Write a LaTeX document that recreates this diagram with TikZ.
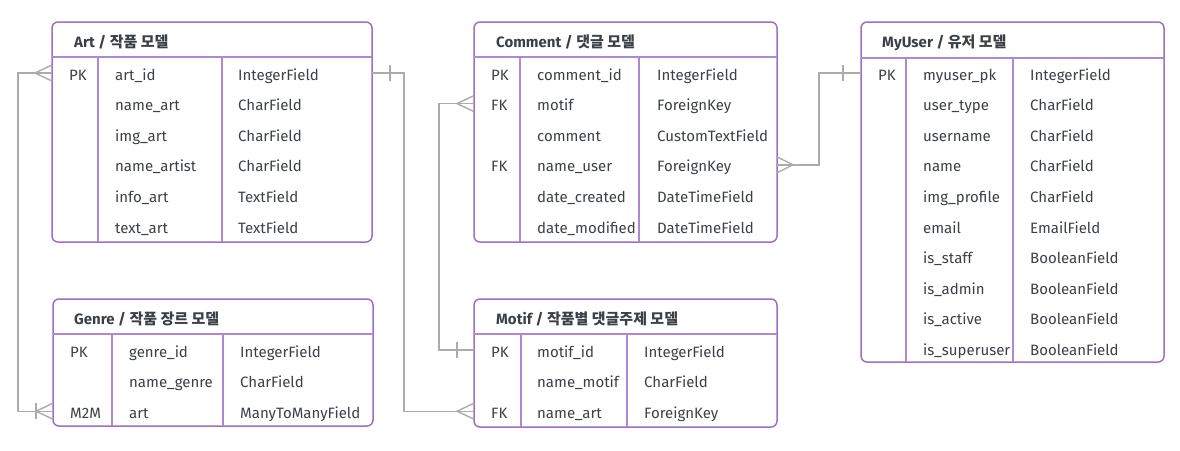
\documentclass[tikz,border=0pt]{standalone}
\usepackage{fontspec}
\setmainfont{Fira Sans}
\newfontfamily\kr{Noto Sans CJK KR}
\usetikzlibrary{calc}

\definecolor{framec}{HTML}{9E6FC6}
\definecolor{rulec}{HTML}{AE88D2}
\definecolor{linkc}{HTML}{ABABAB}
\definecolor{txtc}{HTML}{3B4046}

\tikzset{
  tbl/.style={draw=framec, line width=1.5pt, rounded corners=6pt, anchor=north west, inner sep=0pt, outer sep=0pt},
  tblrule/.style={draw=rulec, line width=1.3pt},
  hdr/.style={anchor=base west, inner sep=0pt, text=txtc, font=\fontsize{15}{18}\selectfont\bfseries},
  cell/.style={anchor=base west, inner sep=0pt, text=txtc, font=\fontsize{15}{18}\selectfont},
  link/.style={draw=linkc, line width=1.4pt},
}

\begin{document}
\begin{tikzpicture}[x=1pt, y=-1pt]
\useasboundingbox (0,0) rectangle (1180,450);

% Art
\node[tbl, minimum width=320pt, minimum height=220pt] (art) at (52,22) {};
\draw[tblrule] (52,57) -- (372,57);
\draw[tblrule] (98,57) -- (98,242);
\draw[tblrule] (222,57) -- (222,242);
\node[hdr] (art-h) at (74,47) {Art / {\kr 작품 모델}};
\foreach \k/\n/\t [count=\i] in {PK/art\_id/IntegerField, {}/name\_art/CharField,
    {}/img\_art/CharField, {}/name\_artist/CharField, {}/info\_art/TextField, {}/text\_art/TextField}{
  \coordinate (art-r\i) at (0,{73+30.6*(\i-1)});
  \node[cell] (art-k\i) at (69,{80+30.6*(\i-1)}) {\k};
  \node[cell] (art-n\i) at (115,{80+30.6*(\i-1)}) {\n};
  \node[cell] (art-t\i) at (238,{80+30.6*(\i-1)}) {\t};
}

% Genre
\node[tbl, minimum width=320pt, minimum height=127pt] (genre) at (53,299) {};
\draw[tblrule] (53,334) -- (373,334);
\draw[tblrule] (112,334) -- (112,426);
\draw[tblrule] (223,334) -- (223,426);
\node[hdr] (genre-h) at (74,324) {Genre / {\kr 작품 장르 모델}};
\foreach \k/\n/\t [count=\i] in {PK/genre\_id/IntegerField, {}/name\_genre/CharField,
    M2M/art/ManyToManyField}{
  \coordinate (genre-r\i) at (0,{350+30.6*(\i-1)});
  \node[cell] (genre-k\i) at (70,{357+30.6*(\i-1)}) {\k};
  \node[cell] (genre-n\i) at (129,{357+30.6*(\i-1)}) {\n};
  \node[cell] (genre-t\i) at (240,{357+30.6*(\i-1)}) {\t};
}

% Comment
\node[tbl, minimum width=303pt, minimum height=220pt] (comment) at (474,22) {};
\draw[tblrule] (474,57) -- (777,57);
\draw[tblrule] (520,57) -- (520,242);
\draw[tblrule] (639,57) -- (639,242);
\node[hdr] (comment-h) at (496,47) {Comment / {\kr 댓글 모델}};
\foreach \k/\n/\t [count=\i] in {PK/comment\_id/IntegerField, FK/motif/ForeignKey,
    {}/comment/CustomTextField, FK/name\_user/ForeignKey, {}/date\_created/DateTimeField,
    {}/date\_modified/DateTimeField}{
  \coordinate (comment-r\i) at (0,{73+30.6*(\i-1)});
  \node[cell] (comment-k\i) at (491,{80+30.6*(\i-1)}) {\k};
  \node[cell] (comment-n\i) at (537,{80+30.6*(\i-1)}) {\n};
  \node[cell] (comment-t\i) at (657,{80+30.6*(\i-1)}) {\t};
}

% Motif
\node[tbl, minimum width=303pt, minimum height=128pt] (motif) at (474,299) {};
\draw[tblrule] (474,334) -- (777,334);
\draw[tblrule] (521,334) -- (521,427);
\draw[tblrule] (627,334) -- (627,427);
\node[hdr] (motif-h) at (496,324) {Motif / {\kr 작품별 댓글주제 모델}};
\foreach \k/\n/\t [count=\i] in {PK/motif\_id/IntegerField, {}/name\_motif/CharField,
    FK/name\_art/ForeignKey}{
  \coordinate (motif-r\i) at (0,{350+30.6*(\i-1)});
  \node[cell] (motif-k\i) at (491,{357+30.6*(\i-1)}) {\k};
  \node[cell] (motif-n\i) at (537,{357+30.6*(\i-1)}) {\n};
  \node[cell] (motif-t\i) at (644,{357+30.6*(\i-1)}) {\t};
}

% MyUser
\node[tbl, minimum width=303pt, minimum height=340pt] (myuser) at (861,22) {};
\draw[tblrule] (861,58) -- (1164,58);
\draw[tblrule] (906,58) -- (906,362);
\draw[tblrule] (1013,58) -- (1013,362);
\node[hdr] (myuser-h) at (882,47) {MyUser / {\kr 유저 모델}};
\foreach \k/\n/\t [count=\i] in {PK/myuser\_pk/IntegerField, {}/user\_type/CharField,
    {}/username/CharField, {}/name/CharField, {}/img\_profile/CharField, {}/email/EmailField,
    {}/is\_staff/BooleanField, {}/is\_admin/BooleanField, {}/is\_active/BooleanField,
    {}/is\_superuser/BooleanField}{
  \coordinate (myuser-r\i) at (0,{73+30.6*(\i-1)});
  \node[cell] (myuser-k\i) at (878,{80+30.6*(\i-1)}) {\k};
  \node[cell] (myuser-n\i) at (923,{80+30.6*(\i-1)}) {\n};
  \node[cell] (myuser-t\i) at (1030,{80+30.6*(\i-1)}) {\t};
}

% relations
\coordinate (artL) at (art.west |- art-r1);
\coordinate (artR) at (art.east |- art-r1);
\coordinate (genreL) at (genre.west |- genre-r3);
\coordinate (motifL1) at (motif.west |- motif-r1);
\coordinate (motifL3) at (motif.west |- motif-r3);
\coordinate (commentL) at (comment.west |- comment-r2);
\coordinate (commentR) at (comment.east |- comment-r4);
\coordinate (myuserL) at (myuser.west |- myuser-r1);

\draw[link] (artL) -- ++(-34,0) |- (genreL);
\draw[link] (artR) -- ++(32,0) |- (motifL3);
\draw[link] (motifL1) -- ++(-35,0) |- (commentL);
\draw[link] (commentR) -- ++(42,0) |- (myuserL);

% crow's feet and bars
\draw[link] (artL) ++(0,-8) -- ++(-17,8) -- ++(17,8);
\draw[link] (genreL) ++(0,-8) -- ++(-17,8) -- ++(17,8);
\draw[link] (genreL) ++(-17,-8) -- ++(0,16);
\draw[link] (artR) ++(18,-8) -- ++(0,16);
\draw[link] (motifL3) ++(0,-8) -- ++(-17,8) -- ++(17,8);
\draw[link] (motifL1) ++(-17,-8) -- ++(0,16);
\draw[link] (commentL) ++(0,-8) -- ++(-17,8) -- ++(17,8);
\draw[link] (commentR) ++(0,-8) -- ++(16,8) -- ++(-16,8);
\draw[link] (myuserL) ++(-18,-8) -- ++(0,16);
\end{tikzpicture}
\end{document}
